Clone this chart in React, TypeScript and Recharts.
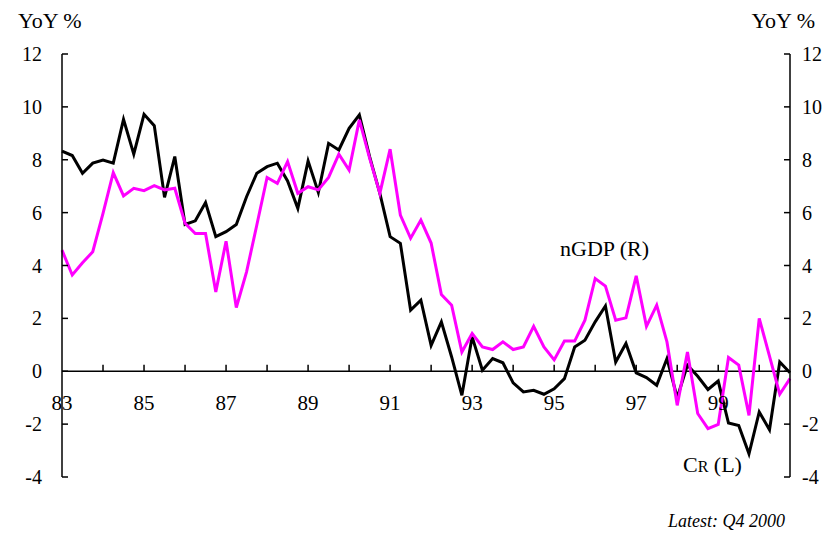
import { ComposedChart, Line, XAxis, YAxis, ReferenceLine } from 'recharts';

// quarterly, Q1 1983 .. Q4 2000 (72 quarters)
const crL = [
  8.33, 8.16, 7.49, 7.87, 7.99, 7.87, 9.53, 8.21, 9.72, 9.29, 6.58, 8.12,
  5.55, 5.69, 6.38, 5.09, 5.28, 5.55, 6.6, 7.49, 7.74, 7.87, 7.2, 6.16,
  7.95, 6.76, 8.62, 8.37, 9.19, 9.7, 8.12, 6.73, 5.09, 4.84, 2.31, 2.69,
  0.98, 1.87, 0.54, -0.91, 1.3, 0.04, 0.48, 0.32, -0.44, -0.78, -0.72, -0.87,
  -0.66, -0.28, 0.92, 1.17, 1.87, 2.47, 0.35, 1.05, -0.06, -0.24, -0.53, 0.48,
  -1.0, 0.23, -0.19, -0.69, -0.37, -1.96, -2.05, -3.12, -1.54, -2.21, 0.35, -0.06,
];

const ngdpR = [
  4.58, 3.64, 4.1, 4.52, 5.97, 7.51, 6.63, 6.92, 6.83, 7.02, 6.86, 6.92,
  5.6, 5.21, 5.21, 3.0, 4.92, 2.41, 3.76, 5.53, 7.33, 7.11, 7.93, 6.73,
  6.98, 6.86, 7.33, 8.21, 7.61, 9.51, 8.06, 6.73, 8.4, 5.91, 5.03, 5.72,
  4.85, 2.9, 2.5, 0.73, 1.43, 0.92, 0.82, 1.11, 0.82, 0.92, 1.7, 0.92,
  0.43, 1.14, 1.14, 1.93, 3.51, 3.22, 1.93, 2.02, 3.61, 1.7, 2.5, 1.11,
  -1.29, 0.73, -1.6, -2.17, -2.01, 0.52, 0.23, -1.67, 2.0, 0.57, -0.87, -0.28,
];

const yearLabels = ['83', '84', '85', '86', '87', '88', '89', '90', '91', '92', '93', '94', '95', '96', '97', '98', '99', '00'];
const yTicks = [-4, -2, 0, 2, 4, 6, 8, 10, 12];

const data = crL.map((v, i) => ({ i, cr: v, ngdp: ngdpR[i] }));
const yearTicks = yearLabels.map((_, k) => k * 4);

const FONT = '"Liberation Serif", "Times New Roman", serif';

const XTick = (props: any) => {
  const { x, y, payload } = props;
  const k = payload.value / 4;
  if (k % 2 !== 0) return <g />;
  return (
    <text x={x} y={y - 67} textAnchor="middle" fontFamily={FONT} fontSize={21} fill="#000">
      {yearLabels[k]}
    </text>
  );
};

export default function App() {
  const tickStyle = { fill: '#000', fontSize: 20, fontFamily: FONT };
  return (
    <div style={{ position: 'absolute', left: 0, top: 0, width: 823, height: 533, background: '#fff' }}>
      <ComposedChart width={823} height={533} data={data} margin={{ top: 54, right: 0, bottom: 0, left: 0 }}>
        <XAxis
          xAxisId="x"
          dataKey="i"
          type="number"
          domain={[0, 71]}
          ticks={yearTicks}
          interval={0}
          axisLine={false}
          tickLine={false}
          tickSize={0}
          tickMargin={0}
          height={56}
          tick={<XTick />}
        />
        <YAxis
          yAxisId="left"
          orientation="left"
          domain={[-4, 12]}
          ticks={yTicks}
          interval={0}
          width={62}
          tick={tickStyle}
          tickSize={-6}
          tickMargin={26}
          axisLine={{ stroke: '#000', strokeWidth: 1.5 }}
          tickLine={{ stroke: '#000', strokeWidth: 1.5 }}
        />
        <YAxis
          yAxisId="right"
          orientation="right"
          domain={[-4, 12]}
          ticks={yTicks}
          interval={0}
          width={33}
          tick={tickStyle}
          tickSize={-6}
          tickMargin={18}
          axisLine={{ stroke: '#000', strokeWidth: 1.5 }}
          tickLine={{ stroke: '#000', strokeWidth: 1.5 }}
        />
        <ReferenceLine xAxisId="x" yAxisId="left" y={0} stroke="#000" strokeWidth={1.5} />
        {yearTicks.slice(1).map((t) => (
          <ReferenceLine
            key={t}
            xAxisId="x"
            yAxisId="left"
            segment={[{ x: t, y: 0 }, { x: t, y: 0.25 }]}
            stroke="#000"
            strokeWidth={1.5}
          />
        ))}
        <Line
          xAxisId="x"
          yAxisId="left"
          dataKey="cr"
          type="linear"
          stroke="#000"
          strokeWidth={3}
          dot={false}
          isAnimationActive={false}
        />
        <Line
          xAxisId="x"
          yAxisId="right"
          dataKey="ngdp"
          type="linear"
          stroke="#FF00FF"
          strokeWidth={3}
          dot={false}
          isAnimationActive={false}
        />
      </ComposedChart>
      <svg
        width={823}
        height={533}
        style={{ position: 'absolute', left: 0, top: 0, pointerEvents: 'none' }}
        fontFamily={FONT}
        fill="#000"
      >
        <text x={18} y={28} fontSize={22}>YoY %</text>
        <text x={815} y={28} fontSize={22} textAnchor="end">YoY %</text>
        <text x={560} y={256} fontSize={22}>nGDP (R)</text>
        <text x={683} y={472} fontSize={22}>
          C<tspan fontSize={16}>R</tspan> (L)
        </text>
        <text x={785} y={527} fontSize={18} fontStyle="italic" textAnchor="end">Latest: Q4 2000</text>
      </svg>
    </div>
  );
}
